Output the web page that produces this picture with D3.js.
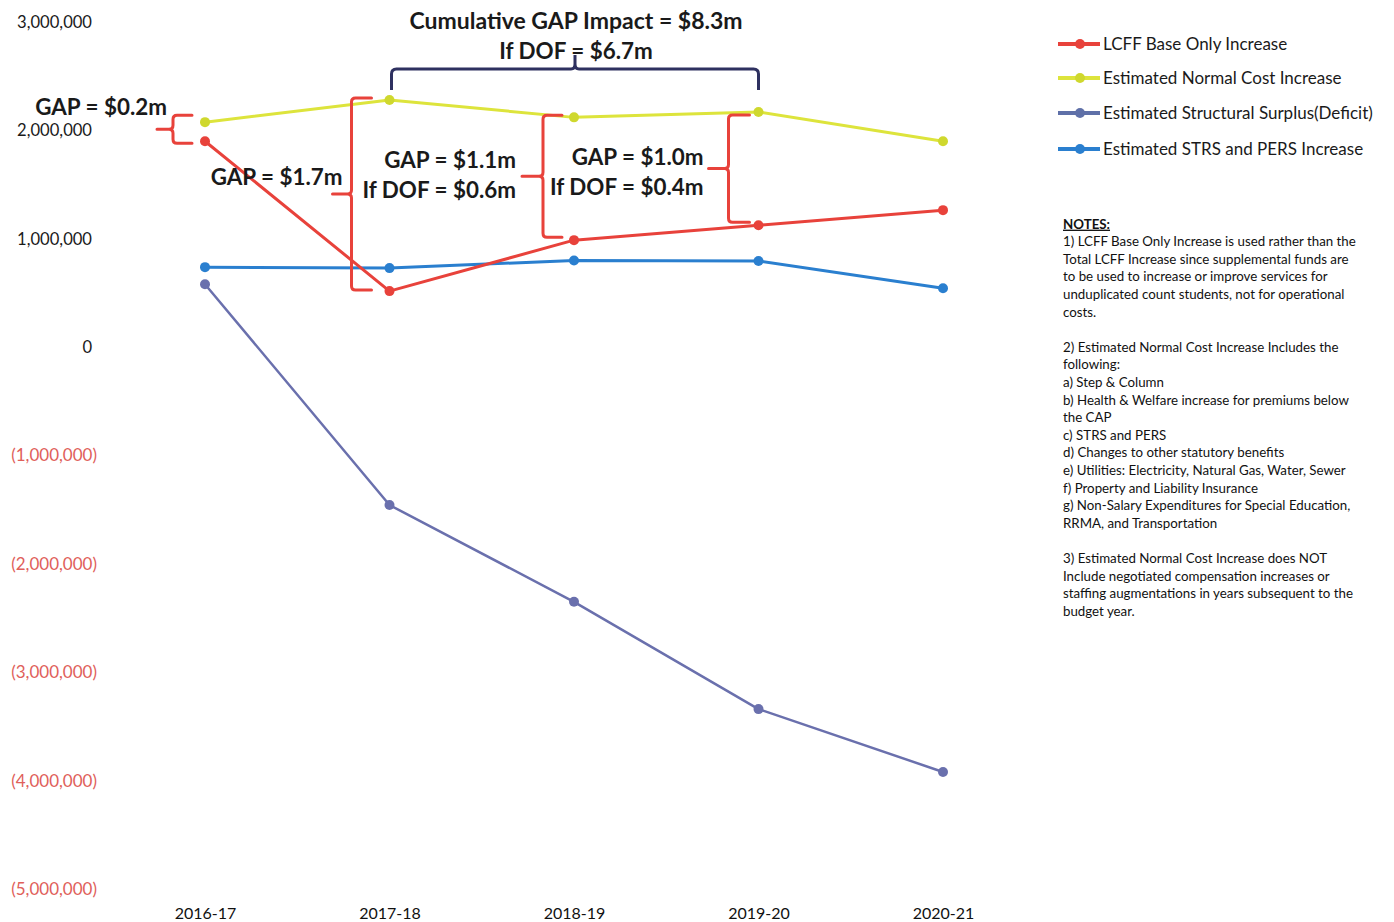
<!DOCTYPE html>
<html><head><meta charset="utf-8">
<script src="https://cdn.jsdelivr.net/npm/d3@7"></script>
<style>
html,body{margin:0;padding:0;background:#fff;}
svg{display:block;font-family:Lato, "Open Sans", sans-serif;}
</style></head>
<body>
<svg id="chart" width="1394" height="922"></svg>
<script>
// ---- data ----
const categories = ["2016-17","2017-18","2018-19","2019-20","2020-21"];
const lcffBase    = [1900000, 517000, 987000, 1125000, 1264000];
const normalCost  = [2076000, 2280000, 2120000, 2170000, 1900000];
const structural  = [580000, -1457000, -2350000, -3340000, -3920000];
const strsPers    = [738000, 729000, 800000, 795000, 544000];
const yTicks = [3000000,2000000,1000000,0,-1000000,-2000000,-3000000,-4000000,-5000000];
const seriesNames = ["LCFF Base Only Increase","Estimated Normal Cost Increase","Estimated Structural Surplus(Deficit)","Estimated STRS and PERS Increase"];
const gapLabels = [["GAP = $0.2m"],["GAP = $1.7m"],["GAP = $1.1m","If DOF = $0.6m"],["GAP = $1.0m","If DOF = $0.4m"]];
const cumulativeLabels = ["Cumulative GAP Impact = $8.3m","If DOF = $6.7m"];
const notesLines = [
 "NOTES:",
 "1) LCFF Base Only Increase is used rather than the",
 "Total LCFF Increase since supplemental funds are",
 "to be used to increase or improve services for",
 "unduplicated count students, not for operational",
 "costs.",
 "",
 "2) Estimated Normal Cost Increase Includes the",
 "following:",
 "a) Step & Column",
 "b) Health & Welfare increase for premiums below",
 "the CAP",
 "c) STRS and PERS",
 "d) Changes to other statutory benefits",
 "e) Utilities: Electricity, Natural Gas, Water, Sewer",
 "f) Property and Liability Insurance",
 "g) Non-Salary Expenditures for Special Education,",
 "RRMA, and Transportation",
 "",
 "3) Estimated Normal Cost Increase does NOT",
 "Include negotiated compensation increases or",
 "staffing augmentations in years subsequent to the",
 "budget year."
];

// ---- layout ----
const svg = d3.select("#chart");
const x = d3.scalePoint().domain(categories).range([205, 943]);
const y = d3.scaleLinear().domain([-5000000, 3000000]).range([889, 22]);

const series = [
  {name: seriesNames[0], values: lcffBase,   color: "#e8423b", marker: "#e8423b", w: 3},
  {name: seriesNames[1], values: normalCost, color: "#dde43c", marker: "#cfd82e", w: 3},
  {name: seriesNames[2], values: structural, color: "#6a70ad", marker: "#6a70ad", w: 2.5},
  {name: seriesNames[3], values: strsPers,   color: "#2a7fcf", marker: "#2a7fcf", w: 3}
];

// y axis labels (no line)
const fmt = d3.format(",");
const yAxis = d3.axisLeft(y).tickValues(yTicks).tickSize(0)
  .tickFormat(d => d < 0 ? "(" + fmt(-d) + ")" : fmt(d));
const ya = svg.append("g").attr("transform", "translate(97,0)").call(yAxis);
ya.select(".domain").remove();
ya.selectAll("text")
  .attr("x", d => d < 0 ? 0 : -5)
  .attr("font-family", "Lato, sans-serif")
  .attr("font-size", d => d < 0 ? 17 : 16.6)
  .attr("fill", d => d < 0 ? "#e0605a" : "#1a1a1a");

// x axis labels (no line)
const xAxis = d3.axisBottom(x).tickSize(0);
const xa = svg.append("g").attr("transform", "translate(0,906)").call(xAxis);
xa.select(".domain").remove();
xa.selectAll("text").attr("font-family","Lato, sans-serif").attr("font-size",16).attr("fill","#111").attr("dy","0.6em");

// lines
const line = d3.line().x((d,i) => x(categories[i])).y(d => y(d));
const order = [3, 2, 1, 0];
order.forEach(k => {
  const s = series[k];
  svg.append("path").datum(s.values).attr("d", line)
    .attr("fill","none").attr("stroke", s.color).attr("stroke-width", s.w)
    .attr("stroke-linejoin","round");
  svg.append("g").selectAll("circle").data(s.values).join("circle")
    .attr("cx",(d,i)=>x(categories[i])).attr("cy",d=>y(d)).attr("r",5)
    .attr("fill", s.marker);
});

// ---- gap brackets ----
const red = "#e8423b";
const bracketCfg = [
  {i:0, off:32, arm:19, tick:16, textMode:"above", tdx:10, tdy:-22, topAdj:-7, botAdj:2},
  {i:1, off:38, arm:20, tick:19, textMode:"above", tdx:10, tdy:-17, topAdj:-2, botAdj:-1},
  {i:2, off:31, arm:19, tick:21, textMode:"left",  tdx:-6, tdy:-1,  topAdj:-2, botAdj:-3},
  {i:3, off:30, arm:21, tick:20, textMode:"left",  tdx:-5, tdy:3.5, topAdj:3,  botAdj:-3}
];
function bracketPath(vx, top, bot, arm, tick){
  const mid = (top+bot)/2, r = 4;
  return `M${vx+arm},${top} L${vx+r},${top} Q${vx},${top} ${vx},${top+r}`+
         ` L${vx},${mid-r} Q${vx},${mid} ${vx-r},${mid} L${vx-tick},${mid}`+
         ` M${vx-r},${mid} Q${vx},${mid} ${vx},${mid+r}`+
         ` L${vx},${bot-r} Q${vx},${bot} ${vx+r},${bot} L${vx+arm},${bot}`;
}
bracketCfg.forEach((b, idx) => {
  const cx = x(categories[b.i]);
  const vx = cx - b.off;
  const top = y(normalCost[b.i]) + b.topAdj;
  const bot = y(lcffBase[b.i]) + b.botAdj;
  const mid = (top+bot)/2;
  svg.append("path").attr("d", bracketPath(vx, top, bot, b.arm, b.tick))
    .attr("fill","none").attr("stroke",red).attr("stroke-width",3).attr("stroke-linecap","round");
  const lines = gapLabels[idx];
  const tEnd = vx - b.tick + b.tdx;
  const t = svg.append("text").attr("text-anchor","end")
    .attr("font-family","Lato, sans-serif").attr("font-weight","bold").attr("font-size",22.4).attr("fill","#1a1a1a");
  if (b.textMode === "above") {
    t.attr("x", tEnd).attr("y", mid + b.tdy).attr("dy","0.35em").text(lines[0]);
  } else {
    lines.forEach((ln, j) => {
      t.append("tspan").attr("x", tEnd).attr("y", mid + b.tdy - 15 + j*30).attr("dy","0.35em").text(ln);
    });
  }
});

// ---- cumulative brace ----
const navy = "#2e3160";
const bx0 = x(categories[1]) + 2, bx1 = x(categories[3]);
const bTop = 69, bEnd = 90, bMid = (bx0+bx1)/2;
svg.append("path")
  .attr("d", `M${bx0},${bEnd} L${bx0},${bTop+5} Q${bx0},${bTop} ${bx0+5},${bTop} L${bMid-4},${bTop} Q${bMid},${bTop} ${bMid},${bTop-5} L${bMid},${bTop-14}`+
             ` M${bMid},${bTop-5} Q${bMid},${bTop} ${bMid+4},${bTop} L${bx1-5},${bTop} Q${bx1},${bTop} ${bx1},${bTop+5} L${bx1},${bEnd}`)
  .attr("fill","none").attr("stroke",navy).attr("stroke-width",3);
cumulativeLabels.forEach((ln, j) => {
  svg.append("text").attr("x", bMid + 1).attr("y", 21 + j*30).attr("dy","0.35em")
    .attr("text-anchor","middle").attr("font-family","Lato, sans-serif").attr("font-weight","bold")
    .attr("font-size", j === 0 ? 23 : 22.4).attr("fill","#1a1a1a").text(ln);
});

// ---- legend ----
const lg = svg.append("g").attr("transform","translate(1058,44)");
series.forEach((s, i) => {
  const g = lg.append("g").attr("transform", `translate(0,${[0,34,69,105][i]})`);
  g.append("line").attr("x1",0).attr("x2",42).attr("stroke", i===2 ? "#5f70a8" : s.color).attr("stroke-width",4);
  g.append("circle").attr("cx",22).attr("r",5).attr("fill", i===2 ? "#5f70a8" : s.marker);
  g.append("text").attr("x",45).attr("dy","0.35em").attr("font-family","Lato, sans-serif")
    .attr("font-size",17).attr("fill","#1a1a1a").text(s.name);
});

// ---- notes ----
const notes = svg.append("text").attr("font-family","Lato, sans-serif").attr("font-size",13.3).attr("fill","#111");
notesLines.forEach((ln, i) => {
  const ts = notes.append("tspan").attr("x",1063).attr("y", 224 + i*17.6).attr("dy","0.35em").text(ln);
  if (i === 0) ts.attr("font-weight","bold").attr("text-decoration","underline");
});
</script>
</body></html>
